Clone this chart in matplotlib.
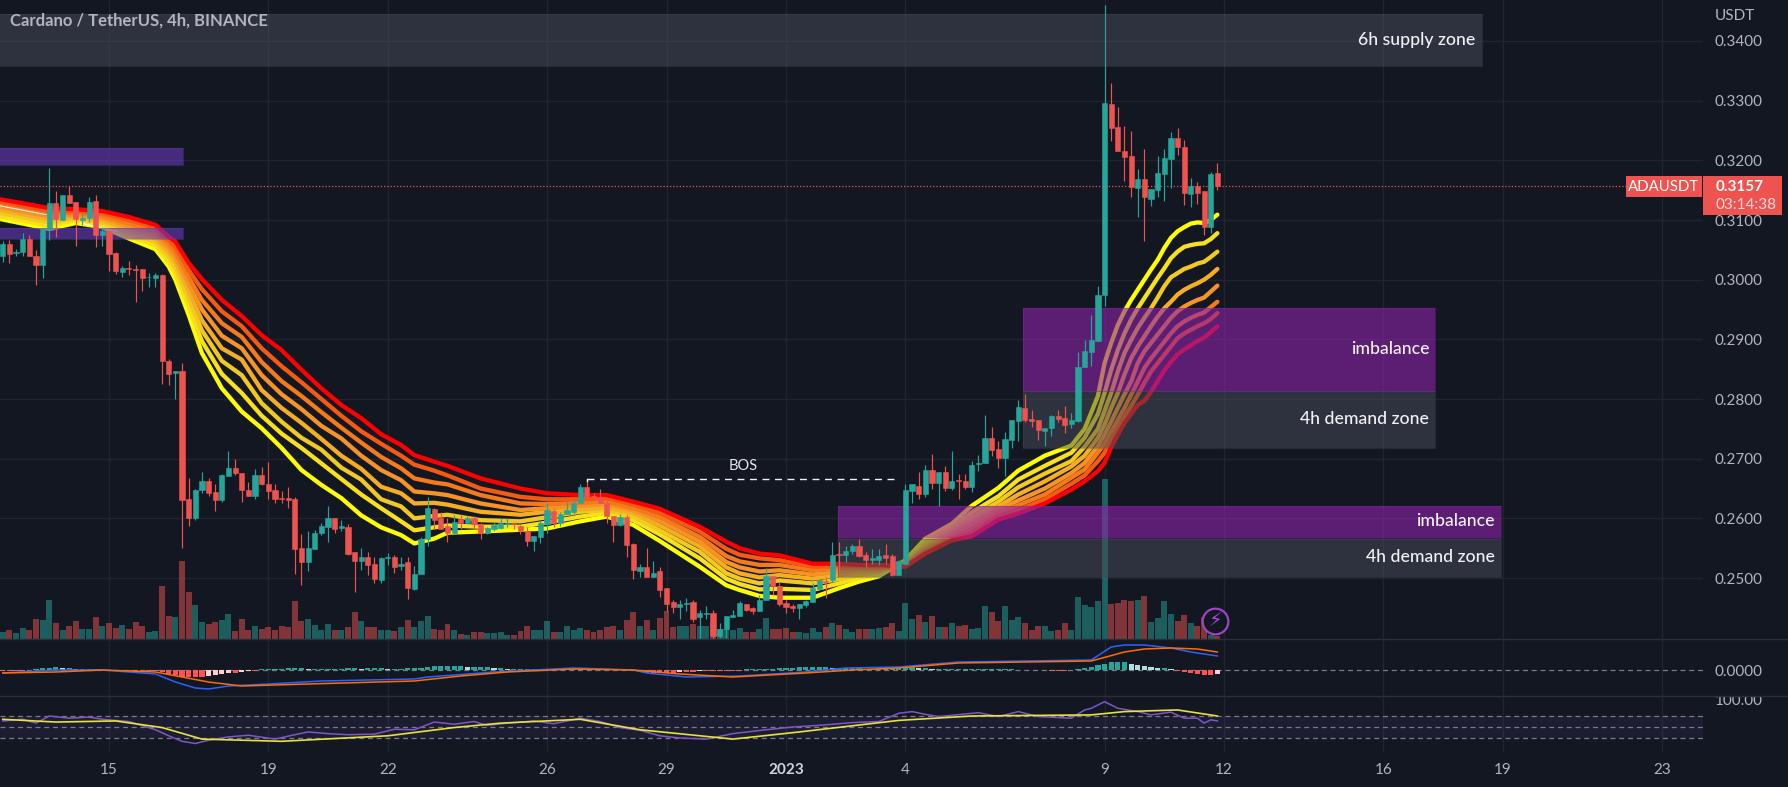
import numpy as np
import matplotlib
matplotlib.use("Agg")
import matplotlib.pyplot as plt
from matplotlib.lines import Line2D
from matplotlib.patches import Rectangle
from matplotlib.transforms import Affine2D, Bbox, TransformedBbox, blended_transform_factory

plt.rcParams['font.family'] = ['Lato', 'DejaVu Sans']

W, H = 1788, 787
TICK = 1e-4      # price tick of ADAUSDT
FIRST_BAR = -16  # bar 0 = 15 Dec 00:00, 6 bars a day

opens = [3040,3059,3044,3047,3069,3040,3025,3085,3128,3100,3142,3131,3100,3103,3132,3075,
3081,3045,3013,3020,3018,3018,3004,3002,3008,2863,2843,2847,2632,2600,2647,2663,2645,2631,2671,2685,2676,2648,2637,2672,
2658,2647,2634,2634,2632,2551,2527,2548,2575,2585,2600,2584,2585,2543,2529,2536,2523,2497,2533,2536,
2520,2527,2482,2507,2566,2615,2600,2587,2576,2599,2592,2601,2590,2575,2582,2584,2591,2592,2588,2578,
2562,2569,2590,2613,2593,2607,2611,2625,2653,2637,2636,2626,2604,2589,2603,2557,2512,2518,2501,2511,
2483,2460,2451,2456,2460,2434,2439,2441,2403,2414,2435,2437,2456,2449,2445,2463,2503,2486,2458,2453,
2450,2455,2460,2482,2495,2496,2540,2539,2546,2553,2538,2531,2531,2538,2537,2505,2524,2646,2654,2641,
2681,2660,2678,2651,2665,2663,2652,2691,2692,2735,2716,2701,2732,2763,2785,2767,2765,2746,2751,2772,
2768,2758,2764,2853,2879,2897,2975,3294,3256,3216,3208,3154,3169,3136,3151,3177,3203,3237,3223,3144,
3157,3148,3089,3178]
highs = [3064,3066,3051,3078,3075,3050,3085,3188,3149,3142,3157,3131,3111,3139,3142,3089,
3081,3047,3023,3031,3025,3018,3011,3012,3009,2867,2847,2860,2667,2650,2677,2668,2658,2675,2713,2699,2676,2661,2682,2686,
2694,2657,2646,2653,2636,2574,2578,2580,2593,2620,2600,2597,2591,2543,2551,2544,2536,2536,2542,2538,
2536,2536,2520,2568,2636,2617,2611,2600,2606,2605,2604,2604,2592,2586,2594,2600,2600,2594,2589,2586,
2570,2596,2625,2616,2611,2628,2633,2658,2665,2642,2650,2633,2604,2607,2606,2558,2523,2551,2529,2518,
2483,2464,2464,2466,2463,2447,2453,2447,2424,2436,2446,2462,2456,2452,2471,2516,2503,2494,2463,2457,
2457,2464,2491,2499,2502,2561,2561,2553,2557,2565,2543,2549,2549,2557,2541,2531,2658,2657,2677,2689,
2708,2678,2688,2713,2674,2674,2696,2706,2774,2753,2729,2744,2765,2799,2808,2782,2765,2751,2774,2782,
2788,2777,2879,2899,2940,2990,3461,3329,3290,3257,3250,3186,3219,3152,3208,3219,3247,3254,3234,3170,
3163,3148,3181,3196]
lows = [3030,3028,3039,3040,3039,2991,3002,3066,3071,3100,3128,3057,3092,3097,3054,3057,
3014,3010,3004,3008,2962,2981,2988,2987,2826,2824,2800,2550,2587,2598,2643,2637,2613,2628,2671,2672,2628,2638,2633,2656,
2632,2625,2626,2617,2507,2488,2512,2548,2572,2561,2576,2578,2538,2477,2513,2505,2491,2492,2522,2509,
2514,2465,2480,2507,2553,2583,2583,2561,2575,2583,2591,2583,2565,2574,2578,2582,2586,2582,2574,2554,
2545,2559,2576,2586,2587,2607,2608,2625,2636,2630,2625,2592,2561,2587,2535,2499,2501,2501,2501,2468,
2444,2441,2432,2444,2427,2396,2432,2397,2399,2399,2434,2437,2444,2440,2445,2463,2471,2453,2442,2443,
2432,2452,2460,2482,2467,2494,2505,2527,2541,2536,2519,2523,2522,2524,2503,2505,2524,2625,2632,2635,
2649,2621,2646,2648,2633,2649,2645,2680,2692,2704,2684,2671,2718,2730,2762,2753,2732,2722,2738,2762,
2743,2751,2762,2853,2855,2897,2956,3233,3215,3165,3139,3105,3064,3123,3138,3132,3153,3209,3125,3122,
3127,3075,3079,3151]
closes = [3059,3043,3047,3069,3039,3025,3085,3128,3101,3142,3128,3101,3103,3131,3075,3081,
3043,3015,3020,3018,3016,3002,3005,3008,2863,2842,2847,2631,2601,2648,2662,2642,2631,2672,2685,2676,2647,2638,2672,2657,
2646,2632,2633,2631,2548,2527,2550,2576,2587,2600,2583,2587,2540,2529,2536,2522,2498,2534,2535,2519,
2524,2484,2507,2565,2617,2597,2583,2576,2594,2593,2601,2590,2575,2584,2589,2592,2592,2590,2578,2562,
2570,2592,2614,2592,2608,2614,2626,2653,2636,2636,2626,2604,2589,2602,2555,2513,2519,2502,2509,2480,
2456,2451,2456,2458,2431,2442,2441,2403,2414,2436,2438,2458,2446,2444,2464,2503,2486,2456,2452,2450,
2457,2462,2484,2496,2494,2539,2538,2546,2553,2537,2530,2533,2537,2533,2505,2529,2648,2657,2641,2681,
2660,2678,2651,2663,2662,2652,2689,2693,2735,2715,2701,2733,2765,2786,2765,2764,2748,2751,2771,2767,
2756,2765,2853,2881,2899,2974,3296,3255,3215,3206,3156,3168,3138,3152,3179,3204,3237,3222,3146,3157,
3146,3089,3177,3157]
volumes = [7,9,6,11,9,20,19,39,16,9,13,18,10,10,22,13,16,11,14,10,17,13,7,8,53,23,22,78,47,34,
17,15,17,19,25,8,20,9,13,10,12,9,13,12,38,18,20,14,9,15,9,9,12,27,18,12,12,9,9,8,
12,19,12,18,23,10,9,15,9,5,4,7,7,6,6,7,4,4,8,13,9,9,18,7,7,13,9,11,9,7,
9,12,13,9,19,27,13,19,9,21,28,12,13,13,15,13,13,16,10,10,9,11,7,7,10,21,10,10,11,7,
7,6,11,7,12,16,14,10,7,10,10,10,11,12,16,8,36,20,24,17,23,12,12,16,13,14,10,11,33,27,
18,33,19,22,16,9,13,13,8,9,16,9,42,34,32,38,160,35,36,39,38,39,43,17,21,38,25,18,24,16,
13,22,4,3]

ribbon_bars = [-17,-9,-5,-1,3,7,9,10,12,14,17,20,23,26,29,32,35,38,41,44,46,49,51,56,62,66,71,75,79,83,
89,93,95,98,101,106,110,113,116,120,123,127,130,134,137,141,145,147,149,150,151,152,153,154,155,156,157,158,159,160,161,162,163,164,165,166,167]
ribbon_1 = [3103,3085,3095,3088,3069,3051,3022,3000,2941,2877,2818,2779,2751,2718,2681,2656,2634,2605,2585,2572,2558,2566,2576,2578,2581,2583,2595,2603,2589,2562,2519,2488,2480,2470,2467,2467,2483,2494,2503,2530,2566,2591,2621,2651,2680,2705,2722,2750,2805,2860,2894,2924,2947,2966,2983,3000,3017,3033,3053,3070,3081,3088,3094,3096,3095,3100,3109]
ribbon_2 = [3108,3090,3100,3092,3074,3057,3030,3010,2955,2897,2842,2810,2772,2742,2718,2692,2666,2640,2617,2595,2580,2585,2588,2586,2586,2593,2603,2609,2597,2573,2533,2499,2490,2481,2482,2480,2491,2500,2506,2528,2560,2585,2610,2637,2665,2688,2710,2735,2775,2810,2849,2882,2910,2933,2952,2969,2986,3003,3019,3036,3047,3055,3058,3060,3061,3068,3078]
ribbon_3 = [3113,3096,3103,3096,3079,3063,3038,3020,2968,2915,2864,2840,2793,2762,2735,2715,2685,2665,2632,2620,2600,2604,2606,2597,2595,2602,2611,2614,2603,2580,2544,2508,2499,2491,2496,2491,2498,2505,2510,2526,2555,2580,2602,2628,2652,2675,2696,2720,2750,2780,2810,2846,2877,2899,2919,2936,2952,2970,2989,3004,3011,3018,3022,3027,3030,3038,3047]
ribbon_4 = [3118,3101,3106,3100,3084,3069,3046,3030,2981,2932,2885,2866,2815,2785,2760,2733,2705,2683,2653,2642,2625,2626,2623,2611,2606,2611,2615,2618,2609,2588,2553,2518,2508,2501,2505,2499,2505,2510,2512,2524,2551,2576,2595,2620,2640,2662,2687,2705,2735,2757,2785,2810,2841,2868,2888,2905,2922,2938,2952,2963,2975,2983,2989,2994,3000,3008,3018]
ribbon_5 = [3123,3106,3109,3104,3089,3075,3053,3038,2993,2950,2906,2885,2840,2808,2783,2755,2734,2705,2681,2664,2645,2642,2639,2625,2614,2617,2621,2624,2613,2596,2561,2527,2518,2511,2513,2506,2510,2514,2515,2522,2548,2572,2590,2615,2630,2650,2676,2693,2721,2740,2762,2785,2808,2829,2860,2880,2894,2908,2922,2936,2947,2955,2961,2966,2970,2980,2990]
ribbon_6 = [3127,3110,3112,3107,3094,3081,3060,3046,3004,2966,2927,2904,2862,2830,2805,2778,2752,2727,2703,2684,2667,2660,2657,2639,2625,2624,2626,2628,2617,2602,2569,2537,2528,2522,2522,2513,2516,2517,2517,2521,2545,2568,2582,2610,2622,2640,2668,2682,2710,2725,2745,2765,2785,2807,2829,2852,2868,2882,2896,2910,2922,2930,2936,2941,2945,2954,2963]
ribbon_7 = [3132,3115,3115,3111,3100,3087,3066,3055,3016,2984,2947,2922,2885,2855,2828,2800,2772,2746,2725,2705,2690,2680,2672,2650,2636,2632,2632,2634,2623,2609,2578,2549,2539,2533,2530,2519,2520,2520,2520,2520,2543,2565,2576,2604,2614,2632,2658,2672,2696,2710,2735,2752,2770,2788,2807,2827,2846,2860,2874,2888,2902,2910,2916,2922,2927,2934,2944]
ribbon_8 = [3136,3120,3118,3115,3105,3092,3072,3064,3028,3001,2966,2939,2907,2882,2849,2818,2790,2768,2741,2723,2706,2695,2688,2667,2650,2642,2639,2639,2628,2616,2586,2561,2550,2541,2538,2524,2524,2522,2522,2519,2541,2563,2570,2598,2608,2625,2648,2662,2679,2693,2719,2740,2760,2775,2790,2797,2812,2830,2848,2862,2875,2883,2890,2897,2903,2912,2922]
ribbons = [ribbon_1, ribbon_2, ribbon_3, ribbon_4, ribbon_5, ribbon_6, ribbon_7, ribbon_8]
ribbon_colors = ['#ffff00','#f8e01e','#f2c91f','#f5ad22','#f59327','#f57a1a','#f55a12','#ff0000']

# zones: left bar, right bar, top price, bottom price
purple_zones = [(-20,11.1,.3221,.3192),(-20,11.1,.3087,.3068)]
imbalance_zones = [(137.7,199.8,.2953,.2813),(109.8,209.7,.2621,.2567)]
grey_zones = [(-20,206.9,.3445,.3358),(137.7,199.8,.2813,.2718),(109.8,209.7,.2565,.2502)]

bos_bars = [72, 119]
bos_price = [.2666, .2666]
last_price = .3157

macd_bars = [-16,-8,-1,7,10,13,15,18,24,32,46,48,58,70,79,81,87,95,105,111,119,128,148,151,153,156,160,163,167]
macd_vals = [-3,0,0,-4,-12,-18,-19,-16,-14,-11,-9,-7,-2,2,0,-3,-7,-6,-2,2,3,8,10,23,25,25,22,18,14]
signal_bars = [-16,-8,-1,7,11,15,20,30,46,53,60,70,79,86,94,105,112,119,128,148,153,156,160,164,167]
signal_vals = [-3,-2,0,-2,-7,-12,-16,-14,-11,-6,-2,1,0,-4,-7,-3,0,2,7,9,18,21,22,21,18]
hist_vals = [-1,-1,-1,-1,0,1,2,2,3,2,2,1,1,1,1,0,-1,-1,-1,-1,-1,-1,-1,-1,-2,-4,-5,-7,-7,-7,
-7,-6,-5,-4,-3,-3,-2,-1,-1,1,1,1,1,2,2,2,1,1,1,1,1,1,2,2,1,2,2,2,1,1,1,2,
2,2,3,4,4,4,4,4,3,3,3,3,2,2,1,1,1,1,1,1,1,1,1,1,1,1,1,1,1,1,1,1,0,
-1,-2,-3,-3,-3,-3,-3,-2,-2,-2,-1,-1,-1,-1,-1,-1,-1,
1,1,1,1,1,2,2,2,3,3,3,3,3,2,2,2,2,2,1,1,1,1,2,2,
3,3,2,2,1,1,1,1,1,1,1,1,1,1,1,1,1,0,0,0,0,0,-1,-1,-1,0,1,2,3,5,
6,8,8,8,6,5,4,3,2,2,1,-1,-2,-3,-4,-5,-5,-4]

rsi_bars = [-16,-13,-11,-9,-6,-3,-1,3,7,9,11,13,15,18,21,25,28,30,33,36,40,43,46,49,52,55,57,60,64,67,71,74,77,80,83,86,90,94,99,103,107,112,116,119,121,123,125,131,134,137,140,145,147,148,150,152,155,157,160,162,164,165,166,167]
rsi_vals = [61,64,57,70,66,68,64,60,45,34,24,20,26,32,35,28,36,41,38,36,37,46,45,59,55,60,53,57,61,56,66,60,49,44,34,30,28,38,45,50,53,58,60,75,78,73,69,76,69,78,69,66,81,84,96,84,78,72,77,66,66,57,63,61]
rsi_ma_bars = [-16,-8,1,8,14,26,42,52,59,71,80,94,104,119,130,148,153,161,167]
rsi_ma_vals = [64,59,61,49,28,24,34,49,57,64,45,28,41,62,70,72,78,81,70]

time_ticks = [0,24,42,66,84,102,120,150,168,192,210,234]
time_labels = ['15','19','22','26','29','2023','4','9','12','16','19','23']
price_ticks = [.25,.26,.27,.28,.29,.30,.31,.32,.33,.34]

BG, GRID = '#131722', '#20242f'
UP, DOWN = '#26a69a', '#ef5350'
AXTXT = '#b2b5be'
ZLAB = '#f2f2f5'

fig = plt.figure(figsize=(W/100, H/100), dpi=100, facecolor=BG)
def pane(top, bottom):
    a = fig.add_axes([0, 1-bottom/H, 1703/W, (bottom-top)/H], facecolor=BG)
    a.set_xlim(-109/6.637, (1703-109)/6.637)
    for s in a.spines.values():
        s.set_visible(False)
    a.set_xticks(time_ticks)
    a.grid(True, color=GRID, lw=1, zorder=0)
    a.set_axisbelow(True)
    a.tick_params(length=0, labelsize=11, labelcolor=AXTXT, right=False, left=False)
    a.yaxis.tick_right()
    a.tick_params(axis='y', pad=8.6)
    a.tick_params(axis='x', labelbottom=False)
    return a

ax = pane(0, 639)
ax_m = pane(639, 696)
ax_r = pane(696, 752)
ax.set_ylim(.34 - 598/5967, .34 + 41/5967)
ax.set_yticks(price_ticks)
ax.set_yticklabels([f'{p:.4f}' for p in price_ticks])

bars = np.arange(FIRST_BAR, FIRST_BAR + len(closes))
o, h, l, c = [np.array(v) * TICK for v in (opens, highs, lows, closes)]
col = np.where(c >= o, UP, DOWN)

# volume on an overlay scale (height in its own units from the pane's bottom)
vt = blended_transform_factory(ax.transData, Affine2D().scale(1, 1/639) + ax.transAxes)
ax.bar(bars, volumes, width=.9, color=col, alpha=.5, transform=vt, zorder=1, linewidth=0)

for vals, colr in zip(ribbons, ribbon_colors):
    ax.plot(ribbon_bars, np.array(vals)*TICK, color=colr, lw=3.1, zorder=2, solid_joinstyle='round', solid_capstyle='round')
ax.plot([-17,-9.5], [.3125,.3109], color='#f4f4f4', lw=.8, zorder=2.1)
ax.plot([-4.3,1.2], [.3095,.3081], color='#f4f4f4', lw=.8, zorder=2.1)

def zone(x0, x1, top, bot, color, alpha):
    ax.add_patch(Rectangle((x0, bot), x1-x0, top-bot, facecolor=color, alpha=alpha, edgecolor='none', zorder=3))
    ax.plot([x0,x1,x1,x0,x0],[top,top,bot,bot,top], color=color, alpha=.35, lw=.8, zorder=3.1)

for x0,x1,t,b in purple_zones:
    zone(x0,x1,t,b,'#673ab7',.6)
for x0,x1,t,b in grey_zones:
    zone(x0,x1,t,b,'#4a4e5a',.5)
for x0,x1,t,b in imbalance_zones:
    zone(x0,x1,t,b,'#8e24aa',.6)

ax.vlines(bars, l, h, colors=col, lw=.85, zorder=4)
ax.bar(bars, np.abs(c-o), bottom=np.minimum(o,c), width=.78, color=col, edgecolor=col, linewidth=.4, zorder=4.1)

ax.plot(bos_bars, bos_price, color='#f0f0f0', lw=1, dashes=(5,4), zorder=5)
ax.plot([bos_bars[0]]*2, [.2666,.2663], color='#f0f0f0', lw=1, zorder=5)
ax.text(95.5, .2688, 'BOS', color='#e6e6ea', fontsize=10.5, ha='center', va='center', zorder=6)
ax.axhline(last_price, color=DOWN, lw=.9, ls=(0,(1,1.6)), zorder=1.5)

def zlabel(bar, price, s):
    ax.text(bar, price, s, color=ZLAB, fontsize=12.7, fontweight='medium', ha='right', va='center', zorder=6)
zlabel(205.9, .3402, '6h supply zone')
zlabel(198.9, .2883, 'imbalance')
zlabel(198.9, .2766, '4h demand zone')
zlabel(208.8, .2595, 'imbalance')
zlabel(208.8, .2535, '4h demand zone')

ax.plot([bars[-1]-.3], [.2428], 'o', ms=18.5, mfc=BG, mec='#9b45c4', mew=1.6, zorder=6)
ax.text(bars[-1]-.3, .2428, '\u26a1', family='DejaVu Sans', color='#a64fd6', fontsize=14, ha='center', va='center', zorder=7)

# MACD pane
ax_m.set_ylim(-.0026, .0031)
ax_m.set_yticks([0])
ax_m.set_yticklabels(['0.0000'])
ax_m.grid(False, axis='y')
ax_m.axhline(0, color='#787b86', lw=.9, dashes=(4,3), zorder=1)
hv = np.array(hist_vals)*1e-4
prev = np.r_[hv[0], hv[:-1]]
hcol = np.where(hv >= 0, np.where(hv >= prev, UP, '#b2dfdb'), np.where(hv <= prev, '#ff5252', '#ffcdd2'))
ax_m.bar(bars, hv, width=.78, color=hcol, zorder=2, linewidth=0)
ax_m.plot(macd_bars, np.array(macd_vals)*1e-4, color='#2962ff', lw=1.1, zorder=3)
ax_m.plot(signal_bars, np.array(signal_vals)*1e-4, color='#ff6d00', lw=1.1, zorder=3.1)

# RSI pane
ax_r.set_ylim(70-(752-716)/.55, 70+(716-696)/.55)
ax_r.set_yticks([100])
ax_r.set_yticklabels(['100.00'])
ax_r.grid(False, axis='y')
ax_r.axhspan(30, 70, color='#7e57c2', alpha=.1, lw=0, zorder=1)
for lev in (30, 50, 70):
    ax_r.axhline(lev, color='#787b86', lw=.9, dashes=(4,3), zorder=1.5)
ax_r.plot(rsi_bars, rsi_vals, color='#7e57c2', lw=1.1, zorder=3)
ax_r.plot(rsi_ma_bars, rsi_ma_vals, color='#e8e23c', lw=1.2, zorder=3.1)
clip = TransformedBbox(Bbox([[0, 1-752/H],[1, 1-696/H]]), fig.transFigure)
for t in ax_r.get_yticklabels():
    t.set_clip_box(clip); t.set_clip_on(True)
ax_r.set_xticklabels(time_labels)
ax_r.tick_params(axis='x', labelbottom=True, pad=8, labelsize=11, labelcolor=AXTXT)
for t in ax_r.get_xticklabels():
    if t.get_text() == '2023':
        t.set_fontweight('bold'); t.set_color('#d1d4dc')

# pane separators
for y in (639, 696):
    fig.add_artist(Line2D([0,1],[1-y/H]*2, color='#2a2e39', lw=1, transform=fig.transFigure, zorder=2))

def ftext(x, y, s, **kw):
    fig.text(x/W, 1-y/H, s, va='center', zorder=7, **kw)
def fbox(x0, y0, x1, y1, color):
    fig.add_artist(Rectangle((x0/W, 1-y1/H), (x1-x0)/W, (y1-y0)/H, transform=fig.transFigure, facecolor=color, edgecolor='none', zorder=6))

ftext(10, 21, 'Cardano / TetherUS, 4h, BINANCE', color='#b2b5be', fontsize=12, fontweight='bold')
ftext(1715, 16, 'USDT', color=AXTXT, fontsize=11)
fbox(1626, 176, 1702, 197, DOWN)
fbox(1703, 176, 1782, 215, DOWN)
ftext(1664, 187, 'ADAUSDT', color='#ffffff', fontsize=10.8, ha='center')
ftext(1716, 187, '0.3157', color='#ffffff', fontsize=11, fontweight='bold')
ftext(1716, 205, '03:14:38', color='#fbdcdc', fontsize=11)

fig.savefig('out.png', dpi=100, facecolor=BG)
